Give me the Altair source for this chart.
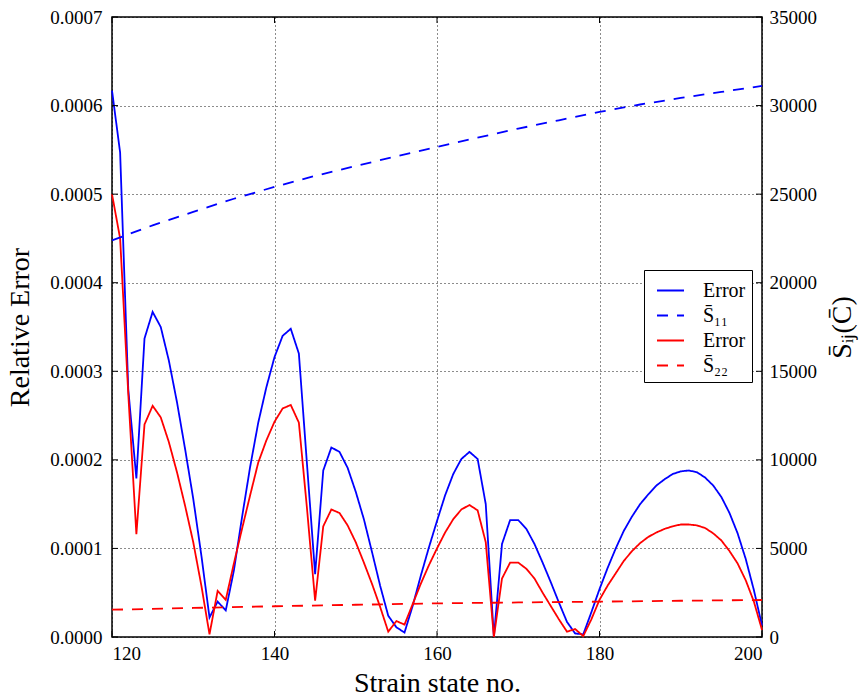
import altair as alt
import pandas as pd

# ---- data ----
x_err = list(range(120, 201))
blue_err_e4 = [6.17, 5.47, 2.80, 1.79, 3.37, 3.67, 3.50, 3.12, 2.65, 2.12,
               1.56, 0.92, 0.22, 0.40, 0.30, 0.75, 1.35, 1.92, 2.42, 2.82,
               3.16, 3.40, 3.48, 3.20, 1.95, 0.71, 1.88, 2.14, 2.09, 1.91,
               1.64, 1.33, 0.96, 0.58, 0.24, 0.11, 0.05, 0.35, 0.69, 1.01,
               1.31, 1.60, 1.84, 2.01, 2.09, 2.01, 1.50, 0.00, 1.05, 1.32,
               1.32, 1.22, 1.05, 0.84, 0.62, 0.39, 0.17, 0.04, 0.03, 0.28,
               0.54, 0.78, 1.00, 1.20, 1.36, 1.50, 1.61, 1.71, 1.78, 1.84,
               1.87, 1.88, 1.86, 1.80, 1.71, 1.58, 1.40, 1.17, 0.88, 0.53,
               0.13]
red_err_e4 = [5.00, 4.50, 2.75, 1.16, 2.40, 2.61, 2.48, 2.20, 1.86, 1.48,
              1.07, 0.58, 0.03, 0.52, 0.42, 0.83, 1.22, 1.60, 1.97, 2.22,
              2.43, 2.58, 2.62, 2.42, 1.45, 0.41, 1.25, 1.44, 1.40, 1.26,
              1.07, 0.84, 0.60, 0.34, 0.06, 0.18, 0.14, 0.37, 0.60, 0.81,
              1.00, 1.18, 1.33, 1.44, 1.49, 1.43, 1.07, 0.00, 0.66, 0.84,
              0.84, 0.77, 0.66, 0.50, 0.35, 0.20, 0.06, 0.09, 0.01, 0.20,
              0.42, 0.58, 0.72, 0.86, 0.97, 1.06, 1.13, 1.18, 1.22, 1.25,
              1.27, 1.27, 1.26, 1.23, 1.17, 1.09, 0.97, 0.83, 0.64, 0.40,
              0.08]

x_s11 = [120, 125, 130, 135, 140, 145, 150, 155, 160, 165, 170, 175, 180, 185, 190, 195, 200]
s11 = [22390, 23240, 24000, 24740, 25410, 26030, 26590, 27140, 27670, 28190,
       28700, 29170, 29640, 30060, 30430, 30770, 31110]
x_s22 = [120, 130, 140, 150, 160, 170, 180, 190, 200]
s22 = [1540, 1640, 1735, 1820, 1900, 1950, 1995, 2045, 2090]

series_names = ["Error", "S\u0304\u2081\u2081", "Error ", "S\u0304\u2082\u2082"]
series_colors = ["#0000ff", "#0000ff", "#ff0000", "#ff0000"]
series_dash = [[1, 0], [11, 9], [1, 0], [11, 9]]

x_ticks = [120, 140, 160, 180, 200]
left_ticks = [0, 0.0001, 0.0002, 0.0003, 0.0004, 0.0005, 0.0006, 0.0007]
right_ticks = [0, 5000, 10000, 15000, 20000, 25000, 30000, 35000]

# ---- tables ----
err_df = pd.concat([
    pd.DataFrame({"x": x_err, "v": [b * 1e-4 for b in blue_err_e4], "series": series_names[0]}),
    pd.DataFrame({"x": x_err, "v": [r * 1e-4 for r in red_err_e4], "series": series_names[2]}),
])
s_df = pd.concat([
    pd.DataFrame({"x": x_s11, "v": s11, "series": series_names[1]}),
    pd.DataFrame({"x": x_s22, "v": s22, "series": series_names[3]}),
])
xt_df = pd.DataFrame({"x": x_ticks})
lt_df = pd.DataFrame({"v": left_ticks})
rt_df = pd.DataFrame({"v": right_ticks})

FONT = "Liberation Serif"
LBL = 19
W, H, TL = 650, 620, 6

xenc = alt.X("x:Q", scale=alt.Scale(domain=[120, 200], nice=False, zero=False),
             axis=alt.Axis(values=x_ticks, format="d", title="Strain state no.",
                           grid=True, ticks=False, labelPadding=7, titlePadding=6,
                           labelFont=FONT, labelFontSize=LBL))
left_scale = alt.Scale(domain=[0, 0.0007], nice=False)
right_scale = alt.Scale(domain=[0, 35000], nice=False)

color_scale = alt.Scale(domain=series_names, range=series_colors)
dash_scale = alt.Scale(domain=series_names, range=series_dash)
leg = alt.Legend(orient="none", legendX=532, legendY=253, title=None,
                 symbolType="stroke", symbolSize=729, symbolStrokeWidth=1.8,
                 symbolOffset=6,
                 labelFont=FONT, labelFontSize=20, labelOffset=18,
                 strokeColor="black", fillColor="white", padding=6,
                 rowPadding=0, cornerRadius=0, labelColor="black")

left = alt.Chart(err_df).mark_line(strokeWidth=1.8).encode(
    x=xenc,
    y=alt.Y("v:Q", scale=left_scale,
            axis=alt.Axis(values=left_ticks, format=".4f", title="Relative Error",
                          grid=True, ticks=False, labelPadding=10, titlePadding=15,
                          labelFont=FONT, labelFontSize=LBL)),
    color=alt.Color("series:N", scale=color_scale, legend=leg),
    strokeDash=alt.StrokeDash("series:N", scale=dash_scale, legend=leg),
    order=alt.Order("x:Q"),
)

right = alt.Chart(s_df).mark_line(strokeWidth=1.8).encode(
    x=xenc,
    y=alt.Y("v:Q", scale=right_scale,
            axis=alt.Axis(values=right_ticks, format="d", orient="right",
                          title="S\u0304\u1d62\u2c7c(C\u0304)", titleAngle=270,
                          titleBaseline="top",
                          grid=False, ticks=False, labelPadding=7, titlePadding=12,
                          labelFont=FONT, labelFontSize=LBL)),
    color=alt.Color("series:N", scale=color_scale, legend=leg),
    strokeDash=alt.StrokeDash("series:N", scale=dash_scale, legend=leg),
    order=alt.Order("x:Q"),
)

# inward tick marks (matplotlib classic style) on all four sides
tick_style = dict(color="black", strokeWidth=1)
bottom_ticks = alt.Chart(xt_df).mark_rule(**tick_style).encode(
    x=xenc, y=alt.value(H), y2=alt.value(H - TL))
top_ticks = alt.Chart(xt_df).mark_rule(**tick_style).encode(
    x=xenc, y=alt.value(0), y2=alt.value(TL))
left_tick_marks = alt.Chart(lt_df).mark_rule(**tick_style).encode(
    y=alt.Y("v:Q", scale=left_scale, axis=None), x=alt.value(0), x2=alt.value(TL))
right_tick_marks = alt.Chart(rt_df).mark_rule(**tick_style).encode(
    y=alt.Y("v:Q", scale=right_scale, axis=None), x=alt.value(W), x2=alt.value(W - TL))

chart = alt.layer(left, right, bottom_ticks, top_ticks, left_tick_marks, right_tick_marks
                  ).resolve_scale(y="independent").properties(
    width=W, height=H,
    padding={"left": 112, "top": 17, "right": 105, "bottom": 61},
    autosize=alt.AutoSizeParams(type="none"),
).configure(
    font=FONT
).configure_view(
    stroke="black", strokeWidth=1.5
).configure_axis(
    labelFont=FONT, labelFontSize=LBL, labelColor="black",
    titleFont=FONT, titleFontSize=28, titleFontWeight="normal", titleColor="black",
    domain=False, gridColor="black", gridDash=[1, 3], gridWidth=1, gridOpacity=0.9,
)

chart.save("out.html", embed_options={"renderer": "svg", "actions": False})
